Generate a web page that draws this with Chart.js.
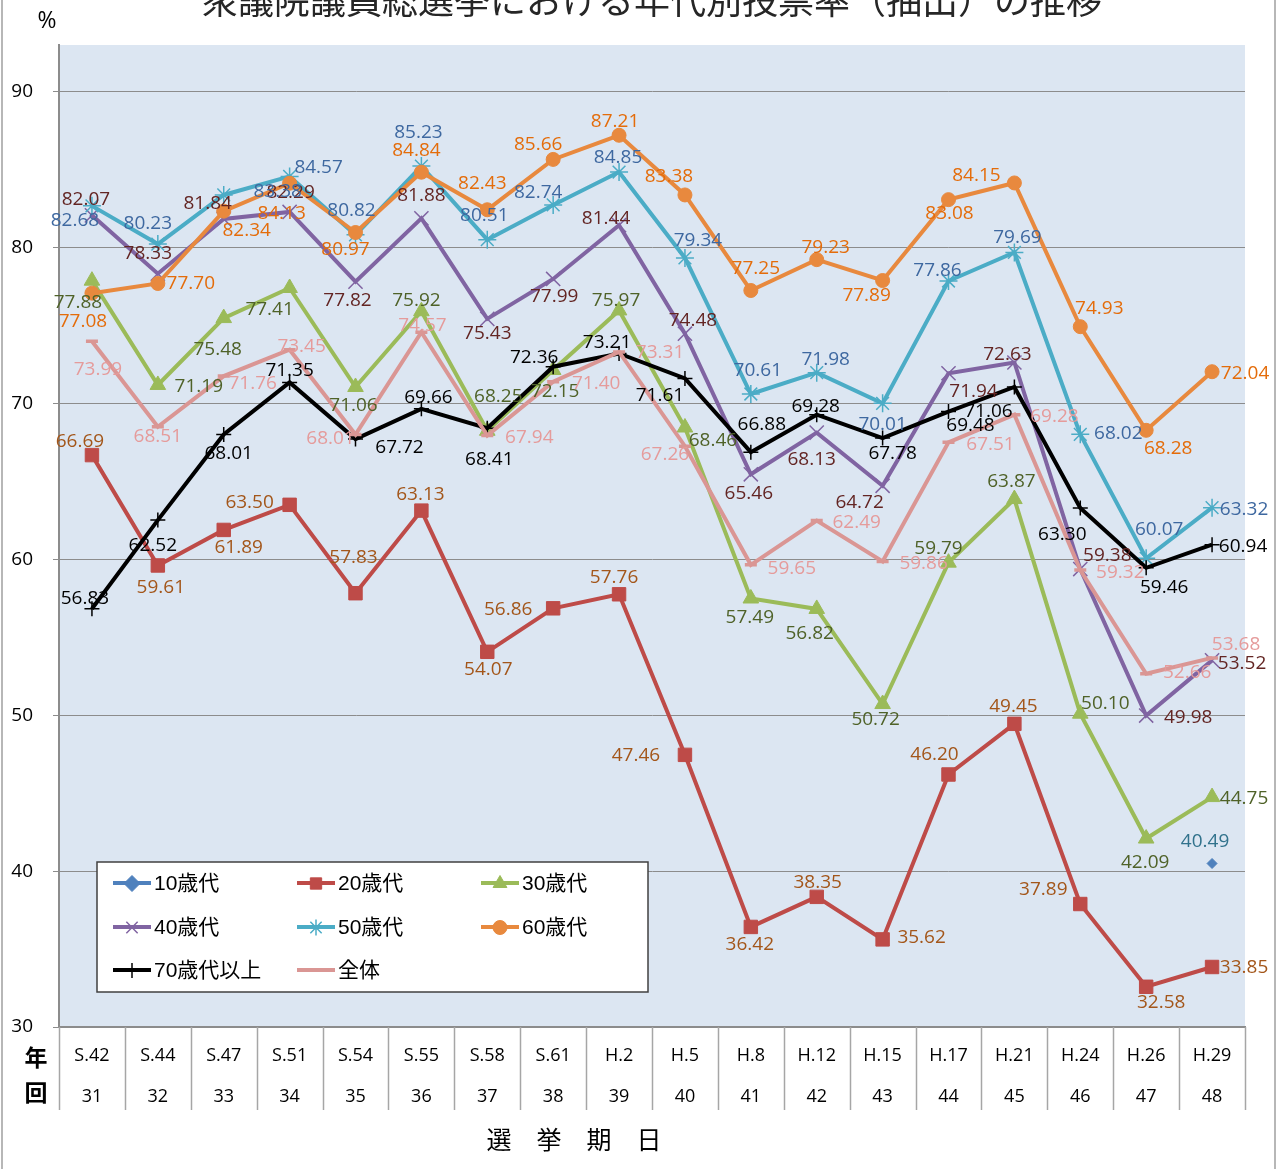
<!DOCTYPE html>
<html><head><meta charset="utf-8">
<script src="https://cdn.jsdelivr.net/npm/chart.js@4/dist/chart.umd.min.js"></script>
<style>html,body{margin:0;padding:0;background:#fff;}#wrap{width:1279px;height:1169px;position:relative;}</style>
</head><body><div id="wrap"><canvas id="c" width="1279" height="1169" style="width:1279px;height:1169px"></canvas></div>
<script>
// ---- data ----
const years = ['S.42','S.44','S.47','S.51','S.54','S.55','S.58','S.61','H.2','H.5','H.8','H.12','H.15','H.17','H.21','H.24','H.26','H.29'];
const sessions = ['31','32','33','34','35','36','37','38','39','40','41','42','43','44','45','46','47','48'];
const seriesNames = ['10歳代','20歳代','30歳代','40歳代','50歳代','60歳代','70歳代以上','全体'];
const teens = [null,null,null,null,null,null,null,null,null,null,null,null,null,null,null,null,null,40.49];
const twenties = [66.69,59.61,61.89,63.50,57.83,63.13,54.07,56.86,57.76,47.46,36.42,38.35,35.62,46.20,49.45,37.89,32.58,33.85];
const thirties = [77.88,71.19,75.48,77.41,71.06,75.92,68.25,72.15,75.97,68.46,57.49,56.82,50.72,59.79,63.87,50.10,42.09,44.75];
const forties = [82.07,78.33,81.84,82.29,77.82,81.88,75.43,77.99,81.44,74.48,65.46,68.13,64.72,71.94,72.63,59.38,49.98,53.52];
const fifties = [82.68,80.23,83.38,84.57,80.82,85.23,80.51,82.74,84.85,79.34,70.61,71.98,70.01,77.86,79.69,68.02,60.07,63.32];
const sixties = [77.08,77.70,82.34,84.13,80.97,84.84,82.43,85.66,87.21,83.38,77.25,79.23,77.89,83.08,84.15,74.93,68.28,72.04];
const seventiesPlus = [56.83,62.52,68.01,71.35,67.72,69.66,68.41,72.36,73.21,71.61,66.88,69.28,67.78,69.48,71.06,63.30,59.46,60.94];
const overall = [73.99,68.51,71.76,73.45,68.01,74.57,67.94,71.40,73.31,67.26,59.65,62.49,59.86,67.51,69.28,59.32,52.66,53.68];
const yTicks = [30,40,50,60,70,80,90];

// ---- label placement (offsets in px from the point) ----
const offTeens = Array(17).fill(null).concat([[-7,-22]]);
const offTwenties = [[-12,-14],[3,22],[15,18],[-40,-2],[-2,-36],[-1,-16],[1,18],[-45,1],[-5,-17],[-49,1],[-1,18],[1,-14],[39,-2],[-14,-20],[-1,-17],[-37,-14],[15,16],[32,1]];
const offThirties = [[-14,22],[41,2],[-6,32],[-20,22],[-2,19],[-5,-11],[11,-34],[2,22],[-3,-10],[28,13],[-1,19],[-7,25],[-7,16],[-10,-14],[-3,-17],[25,-10],[-1,24],[32,2]];
const offForties = [[-6,-16],[-10,-20],[-16,-15],[1,-19],[-8,19],[0,-23],[0,15],[1,18],[-13,-7],[8,-13],[-2,19],[-5,27],[-23,17],[25,18],[-7,-8],[27,-13],[42,2],[30,3]];
const offFifties = [[-17,15],[-10,-20],[54,-3],[29,-9],[-4,-24],[-3,-34],[-3,-24],[-15,-12],[-1,-14],[13,-17],[7,-23],[9,-13],[0,21],[-11,-10],[3,-15],[38,-1],[13,-29],[32,2]];
const offSixties = [[-9,28],[33,0],[23,19],[-8,30],[-10,17],[-5,-22],[-5,-26],[-15,-15],[-4,-14],[-16,-18],[5,-22],[9,-12],[-16,15],[1,14],[-38,-7],[19,-18],[22,18],[33,2]];
const offSeventies = [[-7,-10],[-5,25],[5,19],[0,-12],[44,9],[7,-11],[2,31],[-19,-9],[-12,-11],[-25,17],[11,-28],[-1,-8],[10,15],[22,14],[-26,25],[-18,27],[18,20],[31,2]];
const offOverall = [[6,28],[0,10],[29,8],[12,-3],[-25,4],[1,-7],[42,2],[43,2],[41,1],[-20,8],[41,4],[40,2],[41,2],[42,2],[40,2],[40,3],[41,-1],[24,-13]];

const NUMFONT = "'Open Sans','Liberation Sans',sans-serif";
const JPFONT = "'Liberation Sans','Noto Sans CJK JP',sans-serif";

function ds(label, data, color, labelColor, style, radius, pw, lw, offsets, order) {
  return {label, data, borderColor: color, backgroundColor: color, pointBackgroundColor: color,
    pointBorderColor: color, pointStyle: style, pointRadius: radius, pointBorderWidth: pw,
    borderWidth: lw, tension: 0, spanGaps: false, labelColor, offsets, order};
}

const datasets = [
  ds(seriesNames[0], teens, '#4F81BD', '#31728C', 'rectRot', 5, 1, 4, offTeens, 7),
  ds(seriesNames[1], twenties, '#BE4B48', '#A3561A', 'rect', 9.5, 1, 4, offTwenties, 6),
  ds(seriesNames[2], thirties, '#9BBB59', '#4F6228', 'triangle', 9, 1, 4, offThirties, 5),
  ds(seriesNames[3], forties, '#8064A2', '#632523', 'crossRot', 10, 1.5, 4, offForties, 4),
  ds(seriesNames[4], fifties, '#4BACC6', '#3E68A0', 'star', 9, 1.5, 4, offFifties, 3),
  ds(seriesNames[5], sixties, '#E8893E', '#E46C0A', 'circle', 7, 1, 4, offSixties, 2),
  ds(seriesNames[6], seventiesPlus, '#000000', '#000000', 'cross', 7.5, 1.5, 4, offSeventies, 1),
  ds(seriesNames[7], overall, '#DA9694', '#E59B9B', 'line', 6, 3.5, 4, offOverall, 0)
];

const decor = {
  id: 'decor',
  beforeDraw(chart) {
    const ctx = chart.ctx, a = chart.chartArea;
    ctx.save();
    ctx.fillStyle = '#fff';
    ctx.fillRect(0, 0, chart.width, chart.height);
    ctx.fillStyle = '#DCE6F2';
    ctx.fillRect(a.left, a.top, a.right - a.left, a.bottom - a.top);
    // outer frame
    ctx.strokeStyle = '#A0A0A0'; ctx.lineWidth = 1.5;
    ctx.beginPath(); ctx.moveTo(2, 0); ctx.lineTo(2, chart.height);
    ctx.moveTo(1275, 0); ctx.lineTo(1275, chart.height); ctx.stroke();
    // title (clipped at top)
    ctx.fillStyle = '#262626';
    ctx.textAlign = 'center'; ctx.textBaseline = 'alphabetic';
    ctx.font = "36px 'Noto Sans CJK JP', sans-serif";
    ctx.fillText('衆議院議員総選挙における年代別投票率（抽出）の推移', 652, 14);
    ctx.textBaseline = 'middle';
    ctx.fillStyle = '#000';
    ctx.font = "23px " + NUMFONT;
    ctx.fillText('%', 47, 21);
    ctx.font = "bold 23px 'Noto Sans CJK JP', sans-serif";
    ctx.fillText('年', 36, 1057);
    ctx.fillText('回', 36, 1092);
    ctx.font = "25px 'Noto Sans CJK JP', sans-serif";
    ['選','挙','期','日'].forEach((ch, i) => ctx.fillText(ch, 499 + i * 50, 1139));
    ctx.restore();
  },
  afterDraw(chart) {
    const ctx = chart.ctx, a = chart.chartArea, xs = chart.scales.x;
    ctx.save();
    // category separators below axis
    ctx.strokeStyle = '#A6A6A6'; ctx.lineWidth = 1.5;
    const n = years.length;
    const bounds = [a.left];
    for (let i = 0; i < n - 1; i++) bounds.push((xs.getPixelForTick(i) + xs.getPixelForTick(i + 1)) / 2);
    bounds.push(a.right);
    ctx.beginPath();
    bounds.forEach(b => { ctx.moveTo(Math.round(b) + 0.5, a.bottom); ctx.lineTo(Math.round(b) + 0.5, a.bottom + 83); });
    ctx.stroke();
    // legend
    ctx.fillStyle = '#fff';
    ctx.fillRect(97, 862, 551, 130);
    ctx.strokeStyle = '#404040'; ctx.lineWidth = 1.5;
    ctx.strokeRect(97, 862, 551, 130);
    const cols = [113, 297, 481], rows = [883, 927, 970];
    chart.data.datasets.forEach((d, i) => {
      const x0 = cols[i % 3], y0 = rows[Math.floor(i / 3)];
      ctx.strokeStyle = d.borderColor; ctx.lineWidth = 4;
      ctx.beginPath(); ctx.moveTo(x0, y0); ctx.lineTo(x0 + 38, y0); ctx.stroke();
      if (d.pointStyle !== 'line') {
        ctx.fillStyle = d.pointBackgroundColor; ctx.strokeStyle = d.pointBorderColor;
        ctx.lineWidth = d.pointBorderWidth;
        let r = d.pointStyle === 'rectRot' ? 8 : d.pointRadius;
        if (r > 8) r = 8;
        Chart.helpers.drawPoint(ctx, {pointStyle: d.pointStyle, rotation: 0, borderWidth: d.pointBorderWidth, radius: r}, x0 + 19, y0 + 0.5);
      }
      ctx.fillStyle = '#000'; ctx.textAlign = 'left'; ctx.textBaseline = 'middle';
      ctx.font = "21px " + JPFONT;
      ctx.fillText(d.label, x0 + 41, y0 + 1);
    });
    ctx.restore();
  },
  afterDatasetsDraw(chart) {
    const ctx = chart.ctx;
    ctx.save();
    ctx.font = "19px " + NUMFONT;
    ctx.textAlign = 'center'; ctx.textBaseline = 'middle';
    chart.data.datasets.forEach((d, i) => {
      const meta = chart.getDatasetMeta(i);
      d.data.forEach((v, j) => {
        if (v === null || v === undefined) return;
        const el = meta.data[j], off = d.offsets[j] || [0, -18];
        ctx.fillStyle = d.labelColor;
        ctx.fillText(v.toFixed(2), el.x + off[0], el.y + off[1]);
      });
    });
    ctx.restore();
  }
};

new Chart(document.getElementById('c'), {
  type: 'line',
  data: { labels: years.map((y, i) => [y, sessions[i]]), datasets },
  options: {
    responsive: false, animation: false, devicePixelRatio: 1,
    layout: { padding: { top: 45, right: 34, left: 0, bottom: 0 } },
    plugins: { legend: { display: false }, tooltip: { enabled: false }, title: { display: false } },
    scales: {
      x: {
        type: 'category', offset: true,
        grid: { display: true, drawOnChartArea: false, drawTicks: false, offset: true, color: 'rgba(0,0,0,0)' },
        border: { display: true, color: '#8C8C8C', width: 2 },
        ticks: { autoSkip: false, maxRotation: 0, minRotation: 0, padding: 8.5, color: '#000',
          font: { family: NUMFONT, size: 18, lineHeight: 41 / 18 } },
        afterFit(s) { s.height = 142; }
      },
      y: {
        min: 30, max: 93,
        afterBuildTicks(s) { s.ticks = yTicks.map(v => ({ value: v })); },
        grid: { color: '#8C8C8C', lineWidth: 1, tickLength: 6, drawTicks: true },
        border: { display: true, color: '#8C8C8C', width: 2 },
        ticks: { padding: 20, color: '#000', font: { family: NUMFONT, size: 19 } },
        afterFit(s) { s.width = 59; }
      }
    }
  },
  plugins: [decor]
});
</script>
</body></html>
